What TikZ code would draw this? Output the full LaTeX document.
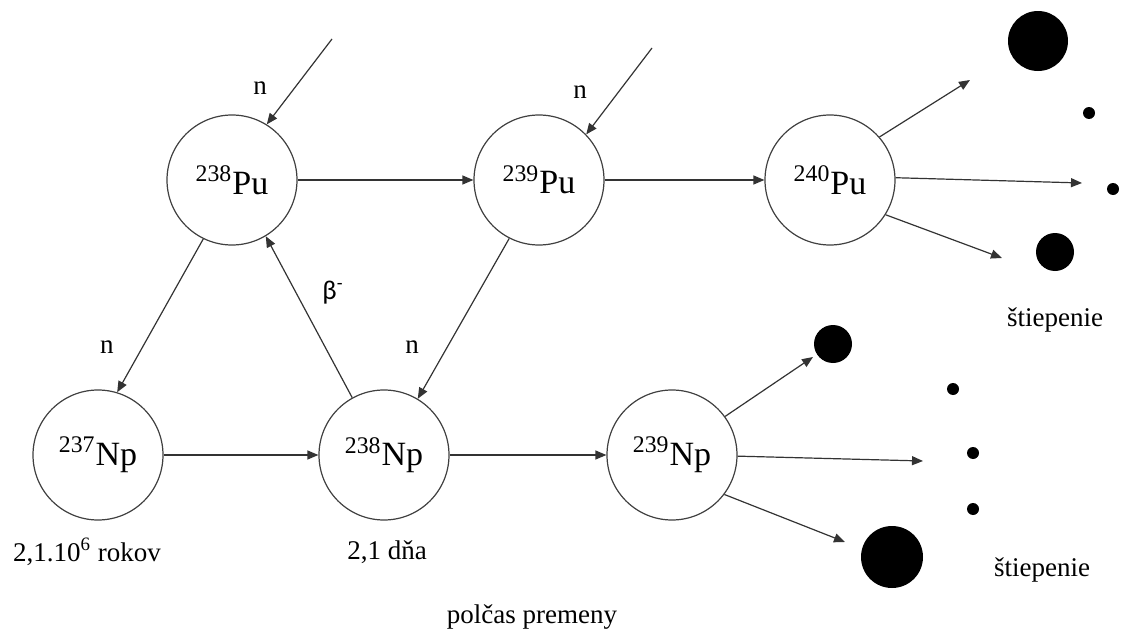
\documentclass[tikz,border=0pt]{standalone}
\usepackage{fontspec}
\setmainfont{Liberation Serif}
\newfontfamily\betafont{Carlito}
\usepackage{xcolor}
\usetikzlibrary{arrows.meta}

\tikzset{
  nuclide/.style={circle, draw=black!75, line width=0.6pt, minimum size=65pt,
    inner sep=0pt, fill=white, font=\fontsize{17}{20}\selectfont},
  arr/.style={draw=black!80, line width=0.6pt, -{Triangle[length=5.5pt,width=4.5pt]}},
  lbl/.style={inner sep=0pt, font=\fontsize{13.5}{16}\selectfont},
}

\begin{document}
\begin{tikzpicture}[x=0.5pt, y=-0.5pt]
        \useasboundingbox (0,0) rectangle (1126,637);
        %\SetGraphUnit{1.5}
        \node[nuclide] (pu238) at (232,180) {\textsuperscript{238}Pu};
        \node[nuclide] (pu239) at (539,180) {\textsuperscript{239}Pu};
        \node[nuclide] (pu240) at (830,180) {\textsuperscript{240}Pu};
        \node[nuclide] (np237) at (98,455) {\textsuperscript{237}Np};
        \node[nuclide] (np238) at (384,455) {\textsuperscript{238}Np};
        \node[nuclide] (np239) at (672,455) {\textsuperscript{239}Np};

        % neutron sources
        \coordinate (src1) at (332,39);
        \coordinate (src2) at (652,48);
        \draw[arr] (src1) -- (pu238.58);
        \draw[arr] (src2) -- (pu239.44);

        \draw[arr] (pu238) -- (pu239);
        \draw[arr] (pu239) -- (pu240);
        \draw[arr] (np237) -- (np238);
        \draw[arr] (np238) -- (np239);
        \draw[arr] (pu238.244) -- (np237.73);
        \draw[arr] (np238.119) -- (pu238.-59);
        \draw[arr] (pu239.243) -- (np238.59);

        % fission of 240Pu
        \coordinate (f1) at (970,80);
        \coordinate (f2) at (1082,183);
        \coordinate (f3) at (1002,258);
        \draw[arr] (pu240.41) -- (f1);
        \draw[arr] (pu240.2) -- (f2);
        \draw[arr] (pu240.-32) -- (f3);
        \fill (1038,41) circle (15pt);
        \fill (1089,113) circle (3pt);
        \fill (1113,189) circle (3pt);
        \fill (1055,252) circle (9.5pt);

        % fission of 239Np
        \coordinate (g1) at (813,357);
        \coordinate (g2) at (923,461);
        \coordinate (g3) at (845,542);
        \draw[arr] (np239.36) -- (g1);
        \draw[arr] (np239.-1) -- (g2);
        \draw[arr] (np239.-37) -- (g3);
        \fill (833,344) circle (9.5pt);
        \fill (953,389) circle (3pt);
        \fill (973,453) circle (3pt);
        \fill (973,509) circle (3pt);
        \fill (892,557) circle (15.5pt);

        \node[lbl] (n1) at (260,88) {n};
        \node[lbl] (n2) at (580,92) {n};
        \node[lbl] (n3) at (107,347) {n};
        \node[lbl] (n4) at (412,347) {n};
        \node[lbl, font=\betafont\fontsize{13.5}{16}\selectfont] (beta) at (333,293) {β\textsuperscript{-}};
        \node[lbl] (fis1) at (1055,320) {štiepenie};
        \node[lbl] (fis2) at (1042,570) {štiepenie};
        \node[lbl] (t1) at (87,552) {2,1.10\textsuperscript{6} rokov};
        \node[lbl] (t2) at (387,552) {2,1 dňa};
        \node[lbl] (half) at (532,617) {polčas premeny};
    \end{tikzpicture}
\end{document}
